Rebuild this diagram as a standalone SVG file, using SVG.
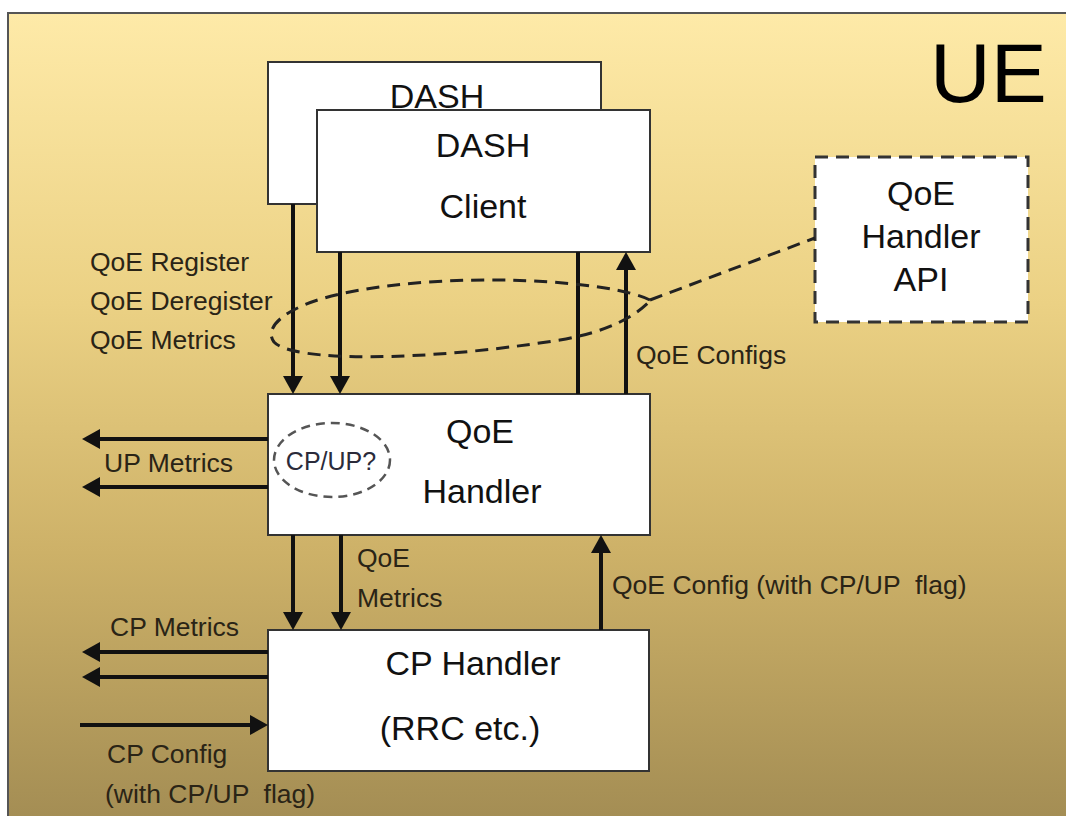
<svg xmlns="http://www.w3.org/2000/svg" width="1066" height="816" viewBox="0 0 1066 816">
<defs>
<linearGradient id="bg" x1="0" y1="0" x2="0" y2="1">
<stop offset="0" stop-color="#FEEAA8"/>
<stop offset="0.35" stop-color="#EBD184"/>
<stop offset="0.65" stop-color="#CDB168"/>
<stop offset="1" stop-color="#A08A52"/>
</linearGradient>
<marker id="ah" viewBox="0 0 18 20" refX="14" refY="10" markerWidth="18" markerHeight="20" markerUnits="userSpaceOnUse" orient="auto">
<path d="M0,0 L18,10 L0,20 z" fill="#111"/>
</marker>
<style>
.box{fill:#fff;stroke:#333;stroke-width:2}
.big{font-family:"Liberation Sans",Arial,sans-serif;font-size:34px;fill:#111;text-anchor:middle}
.lbl{font-family:"Liberation Sans",Arial,sans-serif;font-size:26.5px;fill:#2a2416;white-space:pre}
.ln{stroke:#111;stroke-width:4;fill:none}
.arr{stroke:#111;stroke-width:4;fill:none;marker-end:url(#ah)}
.dash{stroke:#222;stroke-width:3;fill:none;stroke-dasharray:13 8}
</style>
</defs>
<rect x="0" y="0" width="1066" height="816" fill="#fff"/>
<rect x="8" y="13" width="1080" height="830" fill="url(#bg)" stroke="#555" stroke-width="2"/>
<text x="930" y="102" font-family="'Liberation Sans',Arial,sans-serif" font-size="84" fill="#000">UE</text>

<g id="dash-back">
<rect class="box" x="268" y="62" width="333" height="142"/>
<text class="big" x="437" y="108">DASH</text>
</g>
<g id="dash-client">
<rect class="box" x="317" y="110" width="333" height="142"/>
<text class="big" x="483" y="157">DASH</text>
<text class="big" x="483" y="218">Client</text>
</g>
<g id="qoe-api">
<rect x="815" y="157" width="213" height="165" fill="#fff" stroke="#333" stroke-width="3" stroke-dasharray="13 8"/>
<text class="big" x="921" y="205">QoE</text>
<text class="big" x="921" y="248">Handler</text>
<text class="big" x="921" y="291">API</text>
</g>
<g id="qoe-handler">
<rect class="box" x="268" y="394" width="382" height="141"/>
<text class="big" x="480" y="443">QoE</text>
<text class="big" x="482" y="503">Handler</text>
<ellipse cx="332" cy="460" rx="58" ry="37" fill="none" stroke="#555" stroke-width="2.5" stroke-dasharray="9 6"/>
<text x="331" y="470" font-family="'Liberation Sans',Arial,sans-serif" font-size="25" fill="#2b2b3a" text-anchor="middle">CP/UP?</text>
</g>
<g id="cp-handler">
<rect class="box" x="268" y="630" width="381" height="141"/>
<text class="big" x="473" y="675">CP Handler</text>
<text class="big" x="460" y="740">(RRC etc.)</text>
</g>

<g id="connectors">
<line class="arr" x1="293" y1="204" x2="293" y2="390"/>
<line class="arr" x1="340" y1="252" x2="340" y2="390"/>
<line class="ln" x1="578" y1="252" x2="578" y2="394"/>
<line class="arr" x1="626" y1="394" x2="626" y2="256"/>
<line class="arr" x1="268" y1="439" x2="86" y2="439"/>
<line class="arr" x1="268" y1="487" x2="86" y2="487"/>
<line class="arr" x1="293" y1="535" x2="293" y2="626"/>
<line class="arr" x1="341" y1="535" x2="341" y2="626"/>
<line class="arr" x1="601" y1="630" x2="601" y2="539"/>
<line class="arr" x1="268" y1="652" x2="86" y2="652"/>
<line class="arr" x1="268" y1="677" x2="86" y2="677"/>
<line class="arr" x1="80" y1="725" x2="264" y2="725"/>
<path class="dash" d="M650,300 C610,280 450,270 340,294 C290,305 262,326 274,342 C292,362 420,362 560,340 C612,331 636,315 650,301"/>
<line class="dash" x1="650" y1="300" x2="815" y2="238"/>
</g>

<g id="labels">
<text class="lbl" x="90" y="271">QoE Register</text>
<text class="lbl" x="90" y="310">QoE Deregister</text>
<text class="lbl" x="90" y="349">QoE Metrics</text>
<text class="lbl" x="636" y="364">QoE Configs</text>
<text class="lbl" x="104" y="472">UP Metrics</text>
<text class="lbl" x="357" y="567">QoE</text>
<text class="lbl" x="357" y="607">Metrics</text>
<text class="lbl" x="612" y="594">QoE Config (with CP/UP  flag)</text>
<text class="lbl" x="110" y="636">CP Metrics</text>
<text class="lbl" x="107" y="763">CP Config</text>
<text class="lbl" x="105" y="803">(with CP/UP  flag)</text>
</g>
</svg>
